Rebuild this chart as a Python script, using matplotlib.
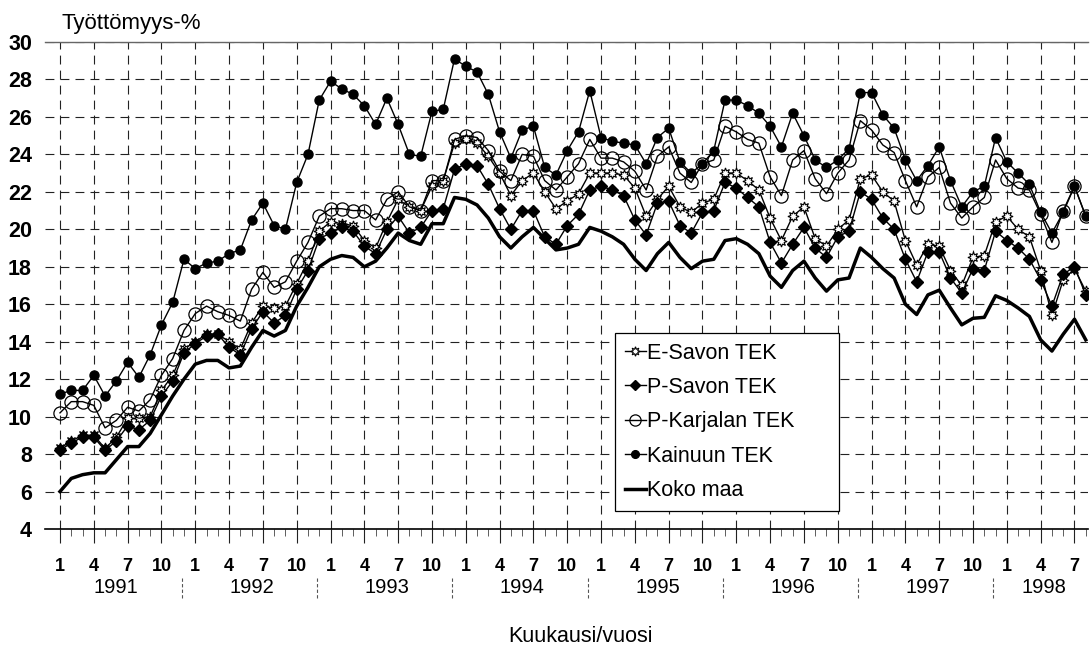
import numpy as np
import matplotlib
matplotlib.use('Agg')
import matplotlib.pyplot as plt

plt.rcParams['font.family'] = ['Liberation Sans', 'DejaVu Sans']

# työttömyysaste kuukausittain 1/1991 - 8/1998
e_savon = [8.3, 8.7, 9.0, 9.0, 8.3, 8.9, 9.9, 9.9, 10.0, 11.4, 12.2, 13.6,
           14.0, 14.4, 14.4, 14.0, 13.6, 15.0, 15.9, 15.8, 15.9, 17.1, 18.3, 19.9,
           20.4, 20.3, 20.2, 19.4, 19.0, 20.4, 21.6, 21.2, 21.0, 22.3, 22.6, 24.6,
           24.8, 24.6, 23.9, 23.0, 21.8, 22.6, 23.0, 22.0, 21.1, 21.5, 21.9, 23.0,
           23.0, 23.0, 22.9, 22.2, 20.7, 21.6, 22.3, 21.2, 20.9, 21.4, 21.6, 23.0,
           23.0, 22.6, 22.1, 20.6, 19.4, 20.7, 21.2, 19.5, 19.1, 20.0, 20.5, 22.7,
           22.9, 22.0, 21.5, 19.4, 18.1, 19.2, 19.1, 17.8, 17.0, 18.5, 18.6, 20.4,
           20.7, 20.0, 19.6, 17.8, 15.4, 17.3, 17.9, 16.7]
p_savon = [8.2, 8.6, 8.9, 8.9, 8.2, 8.7, 9.5, 9.3, 9.8, 11.1, 11.9, 13.4,
           13.9, 14.3, 14.4, 13.7, 13.3, 14.7, 15.6, 15.0, 15.4, 16.8, 17.8, 19.5,
           19.8, 20.1, 19.9, 19.1, 18.7, 20.0, 20.7, 19.8, 20.1, 21.0, 21.1, 23.2,
           23.5, 23.4, 22.4, 21.1, 20.0, 21.0, 21.0, 19.6, 19.2, 20.2, 20.8, 22.1,
           22.3, 22.1, 21.8, 20.5, 19.7, 21.4, 21.5, 20.2, 19.8, 20.9, 21.0, 22.5,
           22.2, 21.7, 21.2, 19.3, 18.2, 19.2, 20.1, 19.0, 18.5, 19.6, 19.9, 22.0,
           21.6, 20.6, 20.0, 18.4, 17.2, 18.8, 18.8, 17.4, 16.6, 17.9, 17.8, 19.9,
           19.4, 19.0, 18.4, 17.3, 15.9, 17.6, 18.0, 16.5]
p_karjalan = [10.2, 10.8, 10.8, 10.6, 9.4, 9.8, 10.5, 10.3, 10.9, 12.2, 13.1, 14.6,
              15.5, 15.9, 15.6, 15.4, 15.1, 16.8, 17.7, 16.9, 17.2, 18.3, 19.3, 20.7,
              21.1, 21.1, 21.0, 21.0, 20.5, 21.6, 22.0, 21.2, 21.0, 22.6, 22.6, 24.8,
              25.0, 24.9, 24.2, 23.1, 22.6, 24.0, 23.9, 22.6, 22.1, 22.8, 23.5, 24.8,
              23.8, 23.8, 23.6, 23.1, 22.1, 23.9, 24.4, 23.0, 22.5, 23.5, 23.7, 25.5,
              25.2, 24.8, 24.6, 22.8, 21.8, 23.7, 24.2, 22.7, 21.9, 23.0, 23.7, 25.8,
              25.3, 24.5, 24.1, 22.6, 21.2, 22.8, 23.3, 21.4, 20.6, 21.2, 21.7, 23.7,
              22.7, 22.2, 22.1, 20.8, 19.3, 21.0, 22.3, 20.7]
kainuu = [11.2, 11.4, 11.4, 12.2, 11.1, 11.9, 12.9, 12.1, 13.3, 14.9, 16.1, 18.4,
          17.9, 18.2, 18.3, 18.7, 18.9, 20.5, 21.4, 20.2, 20.0, 22.5, 24.0, 26.9,
          27.9, 27.5, 27.2, 26.6, 25.6, 27.0, 25.6, 24.0, 23.9, 26.3, 26.4, 29.1,
          28.7, 28.4, 27.2, 25.2, 23.8, 25.3, 25.5, 23.3, 22.9, 24.2, 25.2, 27.4,
          24.9, 24.7, 24.6, 24.5, 23.5, 24.9, 25.4, 23.6, 23.0, 23.5, 24.2, 26.9,
          26.9, 26.6, 26.2, 25.5, 24.4, 26.2, 25.0, 23.7, 23.3, 23.7, 24.3, 27.3,
          27.3, 26.1, 25.4, 23.7, 22.6, 23.4, 24.4, 22.6, 21.2, 22.0, 22.3, 24.9,
          23.6, 23.0, 22.4, 20.9, 19.8, 20.9, 22.3, 20.7]
koko_maa = [6.0, 6.7, 6.9, 7.0, 7.0, 7.7, 8.4, 8.4, 9.1, 10.1, 11.1, 12.0,
            12.8, 13.0, 13.0, 12.6, 12.7, 13.7, 14.6, 14.3, 14.6, 15.9, 16.9, 18.0,
            18.4, 18.6, 18.5, 18.0, 18.3, 19.0, 19.8, 19.4, 19.2, 20.3, 20.3, 21.7,
            21.6, 21.3, 20.6, 19.6, 19.0, 19.6, 20.1, 19.5, 18.9, 19.0, 19.2, 20.1,
            19.9, 19.6, 19.2, 18.4, 17.8, 18.7, 19.3, 18.5, 17.9, 18.3, 18.4, 19.4,
            19.5, 19.2, 18.7, 17.5, 16.9, 17.8, 18.3, 17.4, 16.7, 17.3, 17.4, 19.0,
            18.5, 17.9, 17.4, 16.0, 15.45, 16.5, 16.75, 15.8, 14.9, 15.25, 15.3, 16.45,
            16.2, 15.8, 15.35, 14.1, 13.5, 14.4, 15.2, 14.1]
years = ['1991', '1992', '1993', '1994', '1995', '1996', '1997', '1998']

x = np.arange(len(koko_maa))

fig = plt.figure(figsize=(10.91, 6.48), dpi=100)
ax = fig.add_axes([45 / 1091, 1 - 529 / 648, 1043 / 1091, 487 / 648])

ax.plot(x, e_savon, color='k', lw=1.0, marker=(8, 1, 0), ms=8,
        mfc='white', mec='k', mew=0.8, label='E-Savon TEK')
ax.plot(x, p_savon, color='k', lw=1.0, marker='D', ms=6,
        mfc='k', mec='k', label='P-Savon TEK')
ax.plot(x, p_karjalan, color='k', lw=1.0, marker='o', ms=9.5,
        mfc='none', mec='k', mew=0.9, label='P-Karjalan TEK')
ax.plot(x, kainuu, color='k', lw=1.0, marker='o', ms=6.5,
        mfc='k', mec='k', label='Kainuun TEK')
ax.plot(x, koko_maa, color='k', lw=2.5, label='Koko maa')

ax.set_xlim(-1.33, 91.2)
ax.set_ylim(4, 30)
ax.set_yticks(range(4, 31, 2))

major = x[::3]
ax.set_xticks(major)
ax.set_xticklabels([str(i % 12 + 1) for i in major])
ax.set_xticks(x, minor=True)
ax.tick_params(axis='x', which='major', length=10, width=0.8, pad=10.8,
               labelsize=13, color='#222')
ax.tick_params(axis='x', which='minor', length=5, width=0.6, color='#444')
ax.tick_params(axis='y', length=0, pad=9.4, labelsize=15.5)
for lbl in ax.get_xticklabels() + ax.get_yticklabels():
    lbl.set_fontweight('bold')

ax.grid(True, which='major', color='#222', lw=0.8, linestyle=(0, (8, 5.5)))
ax.set_axisbelow(True)

for side in ['left', 'right']:
    ax.spines[side].set_visible(False)
ax.spines['top'].set_color('#666')
ax.spines['top'].set_linewidth(1.0)
ax.spines['bottom'].set_color('k')
ax.spines['bottom'].set_linewidth(1.2)

# vuosiotsikot ja niiden väliset erottimet
trans = ax.get_xaxis_transform()
for k, yr in enumerate(years):
    pos = 12 * k + 5 if yr != '1998' else 87.3
    ax.text(pos, -0.121, yr, transform=trans, ha='center', va='center',
            fontsize=14.5)
    if k > 0:
        ax.plot([12 * k - 1.2] * 2, [-0.101, -0.146], transform=trans,
                color='#555', lw=0.8, ls=(0, (3, 2)), clip_on=False)

fig.text(62 / 1091, 1 - 23 / 648, 'Työttömyys-%', ha='left', va='center',
         fontsize=16)
fig.text(580 / 1091, 1 - 637 / 648, 'Kuukausi/vuosi', ha='center',
         va='center', fontsize=15.5)

leg = ax.legend(loc='upper left', bbox_to_anchor=(0.5465, 0.045, 0.2145, 0.3575),
                mode='expand', fontsize=15.5, frameon=True, fancybox=False,
                framealpha=1, edgecolor='k', borderaxespad=0, borderpad=0.45,
                labelspacing=0.62, handlelength=1.0, handletextpad=0.05,
                markerscale=0.85)
leg.get_frame().set_linewidth(0.9)

fig.savefig('out.png', dpi=100)
